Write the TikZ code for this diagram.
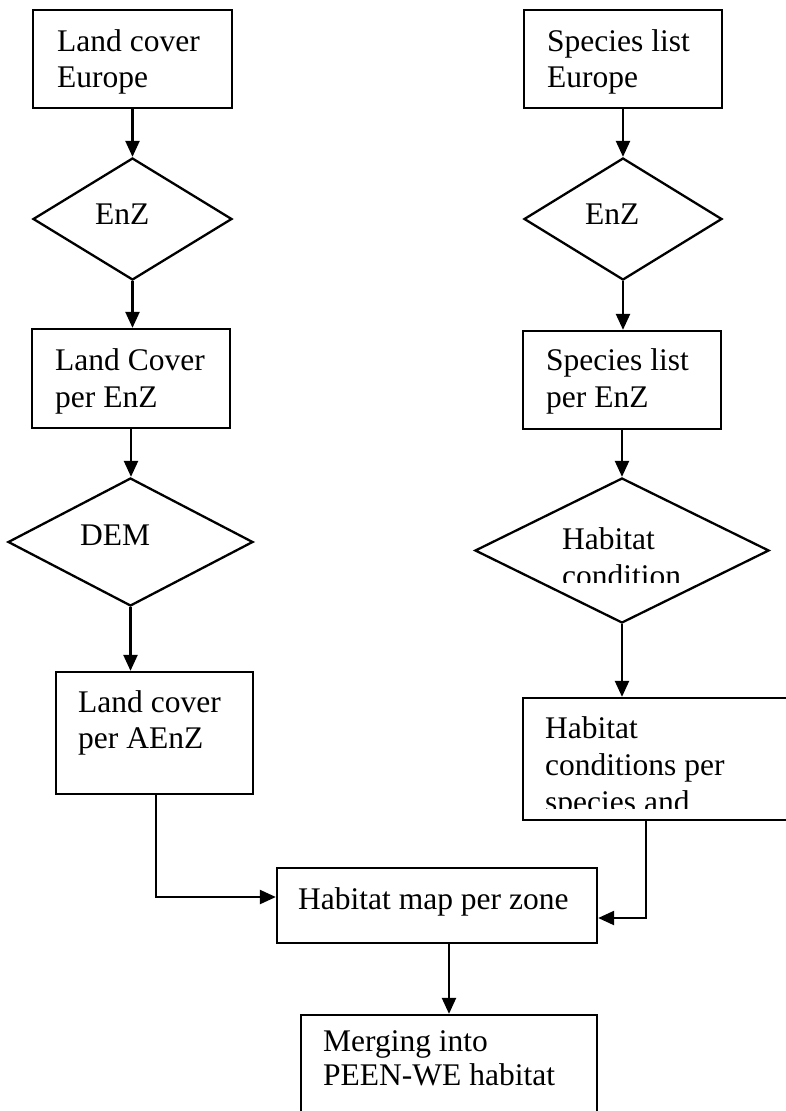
\documentclass[tikz,border=0pt]{standalone}
\usepackage{fontspec}
\setmainfont{Liberation Serif}
\usetikzlibrary{shapes.geometric,arrows.meta}
\begin{document}
\begin{tikzpicture}[x=1pt,y=-1pt,
  boxnode/.style={draw,line width=2.3pt,rectangle,inner sep=0pt,minimum width=#1},
  dianode/.style={draw,line width=2.3pt,diamond,inner sep=0pt,minimum width=#1},
  lbl/.style={anchor=base west,inner sep=0pt,font=\fontsize{31.5}{36}\selectfont},
  conn/.style={line width=2.3pt,-{Triangle[length=16pt,width=14pt]}},
  plain/.style={line width=2.3pt}]
\useasboundingbox (0,0) rectangle (785,1111);
% left column
\node[boxnode=199,minimum height=98] (b1) at (132.5,59) {};
\node[lbl] (t1a) at (57,51) {Land cover};
\node[lbl] (t1b) at (57,87) {Europe};
\node[dianode=199,minimum height=122] (d1) at (132.5,219) {};
\node[lbl] (t1c) at (95,224) {EnZ};
\node[boxnode=198,minimum height=99] (b3) at (131,378.5) {};
\node[lbl] (t3a) at (55,370) {Land Cover};
\node[lbl] (t3b) at (55,407) {per EnZ};
\node[dianode=245,minimum height=128] (d3) at (130.5,542) {};
\node[lbl] (t3c) at (80,545) {DEM};
\node[boxnode=197,minimum height=122] (b5) at (154.5,733) {};
\node[lbl] (t5a) at (78,712) {Land cover};
\node[lbl] (t5b) at (78,748) {per AEnZ};
% right column
\node[boxnode=198,minimum height=98] (b2) at (623,59) {};
\node[lbl] (t2a) at (547,51) {Species list};
\node[lbl] (t2b) at (547,87) {Europe};
\node[dianode=198,minimum height=122] (d2) at (623,219) {};
\node[lbl] (t2c) at (585,224) {EnZ};
\node[boxnode=198,minimum height=98] (b4) at (622,380) {};
\node[lbl] (t4a) at (546,370) {Species list};
\node[lbl] (t4b) at (546,407) {per EnZ};
\node[dianode=294,minimum height=145] (d4) at (622,550.5) {};
\node[lbl] (t4c) at (562,549) {Habitat};
\begin{scope}
\clip (500,560) rectangle (700,582);
\node[lbl] (t4d) at (562,586) {condition};
\end{scope}
\node[boxnode=277,minimum height=122] (b6) at (661.5,759) {};
\node[lbl] (t6a) at (545,738) {Habitat};
\node[lbl] (t6b) at (545,775) {conditions per};
\begin{scope}
\clip (530,780) rectangle (780,808);
\node[lbl] (t6c) at (545,812) {species and};
\end{scope}
% bottom
\node[boxnode=320,minimum height=75] (b7) at (437,905.5) {};
\node[lbl] (t7) at (298,909) {Habitat map per zone};
\node[boxnode=296,minimum height=115] (b8) at (449,1072.5) {};
\node[lbl] (t8a) at (323,1051) {Merging into};
\node[lbl] (t8b) at (323,1085) {PEEN-WE habitat};
% connectors
\draw[conn] (b1.south) -- (b1.south |- d1.north);
\draw[conn] (d1.south) -- (d1.south |- b3.north);
\draw[conn] (b3.south) -- (b3.south |- d3.north);
\draw[conn] (d3.south) -- (d3.south |- b5.north);
\draw[conn] (b2.south) -- (b2.south |- d2.north);
\draw[conn] (d2.south) -- (d2.south |- b4.north);
\draw[conn] (b4.south) -- (b4.south |- d4.north);
\draw[conn] (d4.south) -- (d4.south |- b6.north);
\coordinate (jl) at (156,897);
\coordinate (jr) at (646,918);
\coordinate (jm) at (449,943);
\draw[conn] (jl |- b5.south) -- (jl) -- (jl -| b7.west);
\draw[conn] (jr |- b6.south) -- (jr) -- (jr -| b7.east);
\draw[conn] (jm |- b7.south) -- (jm |- b8.north);
\end{tikzpicture}
\end{document}
